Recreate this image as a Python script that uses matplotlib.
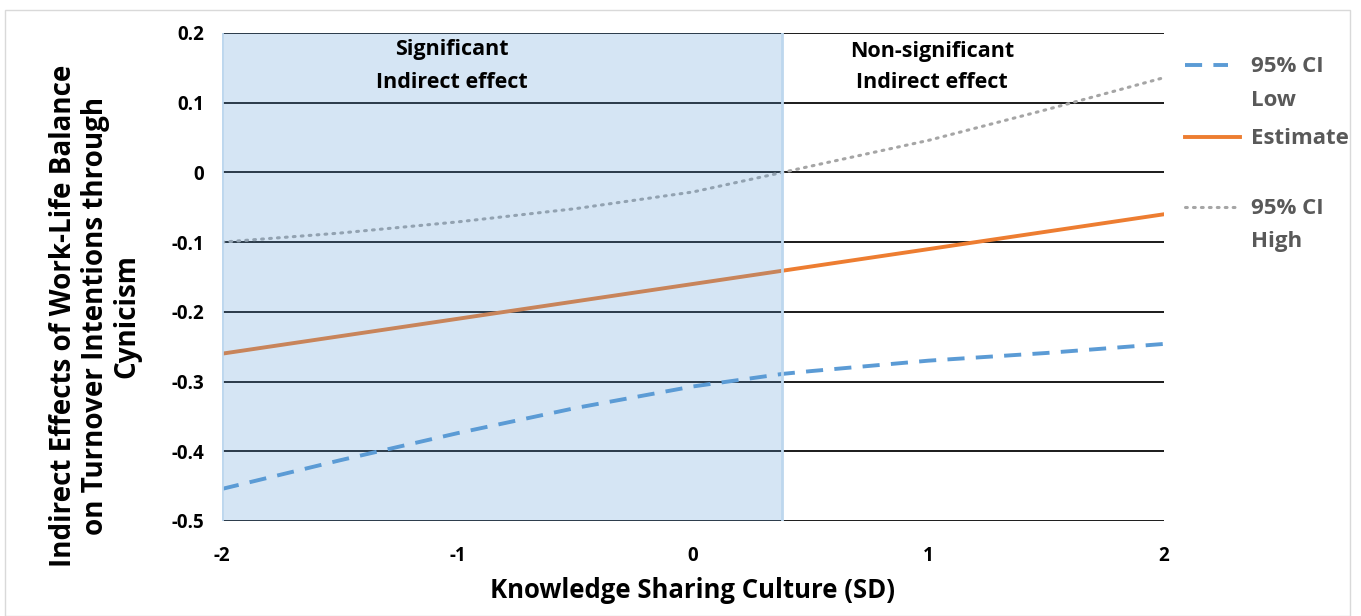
import matplotlib
matplotlib.use("Agg")
import matplotlib.pyplot as plt
from matplotlib.lines import Line2D
from matplotlib.patches import Rectangle

# Data
x_vals = [-2, -1.5, -1, -0.5, 0, 0.38, 0.5, 1, 1.5, 2]
ci_low = [-0.454, -0.413, -0.374, -0.338, -0.307, -0.289, -0.285, -0.270, -0.259, -0.246]
estimate = [-0.26, -0.235, -0.21, -0.185, -0.16, -0.141, -0.135, -0.11, -0.085, -0.06]
ci_high = [-0.100, -0.087, -0.071, -0.052, -0.028, 0.0, 0.009, 0.046, 0.090, 0.136]
sig_boundary = 0.38
y_ticks = [0.2, 0.1, 0, -0.1, -0.2, -0.3, -0.4, -0.5]
y_tick_labels = ["0.2", "0.1", "0", "-0.1", "-0.2", "-0.3", "-0.4", "-0.5"]
x_ticks = [-2, -1, 0, 1, 2]
x_tick_labels = ["-2", "-1", "0", "1", "2"]

FONT = "Open Sans"
BLUE = "#5B9BD5"
ORANGE = "#ED7D31"
GRAY = "#A5A5A5"
DASH = (0, (4.4, 2.9))
DOT = (0, (0.6, 2.0))

fig = plt.figure(figsize=(13.61, 6.16), dpi=100)
W, H = 1361, 616
ax = fig.add_axes([222 / W, 1 - 521 / H, (1164 - 222) / W, (521 - 33) / H])

ax.set_xlim(-2, 2)
ax.set_ylim(-0.5, 0.2)
for s in ax.spines.values():
    s.set_visible(False)

for yv in y_ticks:
    ax.axhline(yv, color="#1a1a1a", lw=1.4, zorder=1)

ax.plot(x_vals, ci_low, color=BLUE, lw=2.8, ls=DASH, zorder=3)
ax.plot(x_vals, estimate, color=ORANGE, lw=2.8, zorder=3)
ax.plot(x_vals, ci_high, color=GRAY, lw=2.2, ls=DOT,
        dash_capstyle="round", zorder=3)

ax.axvspan(-2, sig_boundary, color=BLUE, alpha=0.25, lw=0, zorder=5)
ax.axvline(sig_boundary, color="#BDD7EE", lw=2, zorder=6)
ax.axvline(-2, color="#BDD7EE", lw=2, zorder=6)

ax.set_yticks(y_ticks)
ax.set_yticklabels(y_tick_labels, fontsize=13.5, fontweight="bold", family=FONT)
ax.set_xticks(x_ticks)
ax.set_xticklabels(x_tick_labels, fontsize=13.5, fontweight="bold", family=FONT)
ax.tick_params(axis="both", length=0)
ax.tick_params(axis="y", pad=13)
ax.tick_params(axis="x", pad=18)


def fx(p):
    return p / W


def fy(p):
    return 1 - p / H


for txt, px, py in [("Significant", 452, 50), ("Indirect effect", 452, 82),
                    ("Non-significant", 932, 51), ("Indirect effect", 932, 83)]:
    fig.text(fx(px), fy(py), txt, ha="center", va="center", fontsize=15.5,
             fontweight="bold", family=FONT, zorder=7)

fig.text(fx(693), fy(591), "Knowledge Sharing Culture (SD)", ha="center",
         va="center", fontsize=18.5, fontweight="bold", family=FONT)
fig.text(fx(95), fy(316),
         "Indirect Effects of Work-Life Balance\non Turnover Intentions through\nCynicism",
         ha="center", va="center", rotation=90, fontsize=20, fontweight="bold",
         family=FONT, linespacing=1.12)

# Legend
leg_color = "#595959"
fig.add_artist(Line2D([fx(1185), fx(1228)], [fy(65), fy(65)], color=BLUE, lw=2.8,
                      ls=DASH))
fig.add_artist(Line2D([fx(1185), fx(1240)], [fy(137), fy(137)], color=ORANGE, lw=2.8))
fig.add_artist(Line2D([fx(1185), fx(1235)], [fy(207), fy(207)], color=GRAY, lw=2.2,
                      ls=DOT, dash_capstyle="round"))
for txt, py in [("95% CI", 66), ("Low", 100), ("Estimate", 138), ("95% CI", 208), ("High", 242)]:
    fig.text(fx(1251), fy(py), txt, ha="left", va="center", fontsize=16,
             fontweight="bold", family=FONT, color=leg_color)

# outer frame
fig.add_artist(Rectangle((fx(5), 0), 1345 / W, 1 - 10 / H, transform=fig.transFigure,
                         fill=False, edgecolor="#D9D9D9", lw=1))

fig.savefig("out.png", dpi=100)
